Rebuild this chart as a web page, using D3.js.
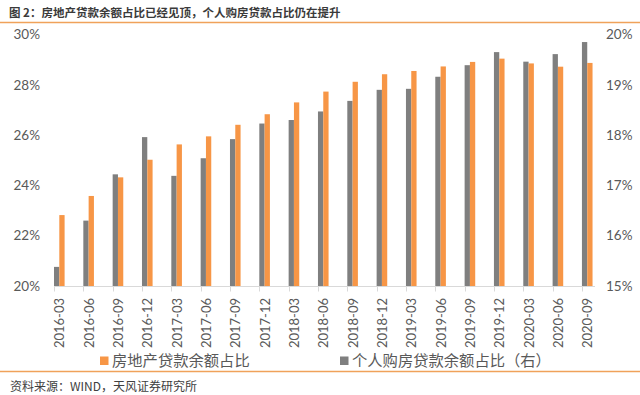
<!DOCTYPE html>
<html>
<head>
<meta charset="utf-8">
<script src="https://cdn.jsdelivr.net/npm/d3@7"></script>
<style>
  body { margin: 0; background: #fff; }
  svg { display: block; }
</style>
</head>
<body>
<script>
// data
let categories = ["2016-03","2016-06","2016-09","2016-12","2017-03","2017-06","2017-09","2017-12",
  "2018-03","2018-06","2018-09","2018-12","2019-03","2019-06","2019-09","2019-12","2020-03","2020-06","2020-09"]
// 房地产贷款余额占比 (left axis, %)
let realEstateShare = [22.82,23.58,24.32,25.02,25.63,25.95,26.41,26.83,27.30,27.73,28.12,28.42,28.55,28.73,28.91,29.04,28.85,28.72,28.87]
// 个人购房贷款余额占比 (right axis, %)
let mortgageShare = [15.38,16.30,17.22,17.96,17.19,17.54,17.92,18.23,18.30,18.47,18.68,18.90,18.92,19.16,19.39,19.65,19.46,19.61,19.85]
let leftTicks = [20,22,24,26,28,30]
let rightTicks = [15,16,17,18,19,20]

let width = 640, height = 395
let orange = "#f79646", gray = "#7f7f7f", textColor = "#595959"
let numFont = "Lato, 'Noto Sans', sans-serif"
let cjkFont = "'Noto Sans CJK SC', sans-serif"

let svg = d3.select("body").append("svg")
  .attr("width", width)
  .attr("height", height)

// title + rules
svg.append("text")
  .attr("x", 9).attr("y", 16.5)
  .attr("font-family", cjkFont)
  .attr("font-size", "11.5px")
  .attr("font-weight", "bold")
  .attr("fill", "#3a3a3a")
  .text("图 2：房地产贷款余额占比已经见顶，个人购房贷款占比仍在提升")

svg.append("line")
  .attr("x1", 0).attr("x2", width).attr("y1", 22.5).attr("y2", 22.5)
  .attr("stroke", "#f0a25a").attr("stroke-width", 1.5)
svg.append("line")
  .attr("x1", 0).attr("x2", width).attr("y1", 371.5).attr("y2", 371.5)
  .attr("stroke", "#f0a25a").attr("stroke-width", 1.5)

// scales
let plotBottom = 286, plotTop = 34.5
let x = d3.scaleBand().domain(categories).range([54, 54 + 19 * 29.33]).padding(0)
let yLeft = d3.scaleLinear().domain([20, 30]).range([plotBottom, plotTop])
let yRight = d3.scaleLinear().domain([15, 20]).range([plotBottom, plotTop])
let barW = 5.3

// axes labels
svg.append("g")
  .selectAll("text")
  .data(leftTicks)
  .enter()
  .append("text")
    .attr("x", 40).attr("y", d => yLeft(d))
    .attr("dy", "0.35em")
    .attr("text-anchor", "end")
    .attr("font-family", numFont).attr("font-size", "13.5px")
    .attr("fill", textColor)
    .text(d => d + "%")

svg.append("g")
  .selectAll("text")
  .data(rightTicks)
  .enter()
  .append("text")
    .attr("x", 606).attr("y", d => yRight(d))
    .attr("dy", "0.35em")
    .attr("font-family", numFont).attr("font-size", "13.5px")
    .attr("fill", textColor)
    .text(d => d + "%")

// bars
svg.append("g")
  .selectAll("rect")
  .data(categories)
  .enter()
  .append("rect")
    .attr("x", d => x(d))
    .attr("y", (d, i) => yRight(mortgageShare[i]))
    .attr("width", barW)
    .attr("height", (d, i) => plotBottom - yRight(mortgageShare[i]))
    .attr("fill", gray)

svg.append("g")
  .selectAll("rect")
  .data(categories)
  .enter()
  .append("rect")
    .attr("x", d => x(d) + barW)
    .attr("y", (d, i) => yLeft(realEstateShare[i]))
    .attr("width", barW)
    .attr("height", (d, i) => plotBottom - yLeft(realEstateShare[i]))
    .attr("fill", orange)

// x axis
let xAxis = svg.append("g")
xAxis.append("line")
  .attr("x1", 54).attr("x2", 595).attr("y1", plotBottom + 0.5).attr("y2", plotBottom + 0.5)
  .attr("stroke", "#d9d9d9")
xAxis.selectAll(".tick")
  .data(categories)
  .enter()
  .append("line")
    .attr("class", "tick")
    .attr("x1", d => Math.round(x(d)) + 0.5).attr("x2", d => Math.round(x(d)) + 0.5)
    .attr("y1", plotBottom).attr("y2", plotBottom + 5.5)
    .attr("stroke", "#d9d9d9")
xAxis.selectAll("text")
  .data(categories)
  .enter()
  .append("text")
    .attr("transform", d => `translate(${x(d) + barW + 0.5},298) rotate(-90)`)
    .attr("dy", "0.35em")
    .attr("text-anchor", "end")
    .attr("font-family", numFont).attr("font-size", "13px")
    .attr("fill", textColor)
    .text(d => d)

// legend
let legend = [
  {label: "房地产贷款余额占比", color: orange, x: 100},
  {label: "个人购房贷款余额占比（右）", color: gray, x: 340}
]
let lg = svg.append("g")
  .selectAll("g")
  .data(legend)
  .enter()
  .append("g")
    .attr("transform", d => `translate(${d.x},356.5)`)
lg.append("rect")
  .attr("width", 8.5).attr("height", 8.5)
  .attr("fill", d => d.color)
lg.append("text")
  .attr("x", 12).attr("y", 4.5).attr("dy", "0.35em")
  .attr("font-family", cjkFont).attr("font-size", "15.3px")
  .attr("fill", textColor)
  .text(d => d.label)

// source
svg.append("text")
  .attr("x", 10).attr("y", 387).attr("dy", "0.35em")
  .attr("font-family", cjkFont).attr("font-size", "12px")
  .attr("fill", "#404040")
  .text("资料来源：WIND，天风证券研究所")
</script>
</body>
</html>
